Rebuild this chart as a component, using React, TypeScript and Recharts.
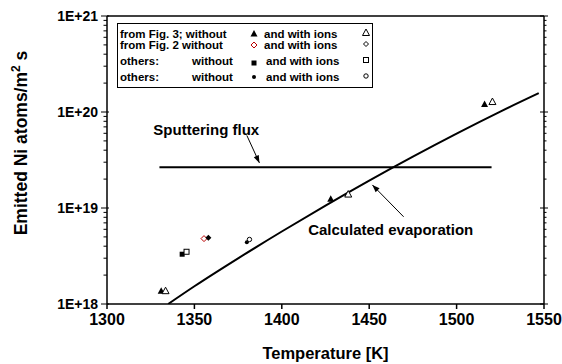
import {
  ComposedChart,
  Line,
  Scatter,
  XAxis,
  YAxis,
  ReferenceLine,
  ReferenceDot,
  Legend,
} from "recharts";

// temperatures [K] and emitted flux [atoms/m^2 s]
const fig3WithoutT = [1331, 1428, 1516];
const fig3WithoutF = [1.36e18, 1.23e19, 1.2e20];
const fig3WithT = [1333.5, 1438, 1520.5];
const fig3WithF = [1.36e18, 1.38e19, 1.27e20];
const fig2WithoutT = [1355.5];
const fig2WithoutF = [4.8e18];
const fig2WithT = [1358];
const fig2WithF = [4.9e18];
const sqWithoutT = [1343];
const sqWithoutF = [3.3e18];
const sqWithT = [1345.5];
const sqWithF = [3.5e18];
const circWithoutT = [1380];
const circWithoutF = [4.4e18];
const circWithT = [1381.5];
const circWithF = [4.7e18];

const evapT = [1335, 1350, 1375, 1400, 1425, 1450, 1475, 1500, 1525, 1547];
const evapF = [1.0e18, 1.53e18, 2.99e18, 5.69e18, 1.06e19, 1.93e19, 3.43e19, 5.96e19, 1.01e20, 1.57e20];
const sputT = [1330, 1520];
const sputF = [2.65e19, 2.65e19];

const xTicks = [1300, 1350, 1400, 1450, 1500, 1550];
const yMajor = [1e18, 1e19, 1e20, 1e21];
const yMinor = [
  2e18, 3e18, 4e18, 5e18, 6e18, 7e18, 8e18, 9e18,
  2e19, 3e19, 4e19, 5e19, 6e19, 7e19, 8e19, 9e19,
  2e20, 3e20, 4e20, 5e20, 6e20, 7e20, 8e20, 9e20,
];

const zip = (t: number[], f: number[]) => t.map((v, i) => ({ t: v, f: f[i] }));

const font = "'Liberation Sans', Arial, sans-serif";

const fmtY = (v: number) => "1E+" + Math.round(Math.log10(v));

const triFilled = (p: any) => (
  <path d={`M${p.cx},${p.cy - 4}L${p.cx + 3.5},${p.cy + 2.5}L${p.cx - 3.5},${p.cy + 2.5}Z`} fill="#000" />
);
const triOpen = (p: any) => (
  <path d={`M${p.cx},${p.cy - 4}L${p.cx + 3.5},${p.cy + 2.5}L${p.cx - 3.5},${p.cy + 2.5}Z`} fill="#fff" stroke="#000" strokeWidth={1} />
);
const diaOpenRed = (p: any) => (
  <path d={`M${p.cx},${p.cy - 3}L${p.cx + 3},${p.cy}L${p.cx},${p.cy + 3}L${p.cx - 3},${p.cy}Z`} fill="#fff" stroke="#b00" strokeWidth={1} />
);
const diaFilled = (p: any) => (
  <path d={`M${p.cx},${p.cy - 3}L${p.cx + 3},${p.cy}L${p.cx},${p.cy + 3}L${p.cx - 3},${p.cy}Z`} fill="#000" />
);
const diaOpen = (p: any) => (
  <path d={`M${p.cx},${p.cy - 2.5}L${p.cx + 2.5},${p.cy}L${p.cx},${p.cy + 2.5}L${p.cx - 2.5},${p.cy}Z`} fill="#fff" stroke="#000" strokeWidth={1} />
);
const sqFilled = (p: any) => <rect x={p.cx - 2.5} y={p.cy - 2.5} width={5} height={5} fill="#000" />;
const sqOpen = (p: any) => <rect x={p.cx - 2.5} y={p.cy - 2.5} width={5} height={5} fill="#fff" stroke="#000" strokeWidth={1} />;
const circFilled = (p: any) => <circle cx={p.cx} cy={p.cy} r={2} fill="#000" />;
const circOpen = (p: any) => <circle cx={p.cx} cy={p.cy} r={2.2} fill="#fff" stroke="#000" strokeWidth={1} />;

// draws tick mark + label; tickSize/tickMargin are 0 so x is the axis position
const LeftTick = (props: any) => {
  const { x, y, payload } = props;
  const major = yMajor.includes(payload.value);
  return (
    <g>
      <line x1={x - (major ? 6 : 3.5)} x2={major ? x + 2 : x} y1={y} y2={y} stroke="#000" strokeWidth={1} />
      {major && (
        <text x={x - 9} y={y} dy={5} textAnchor="end" fontFamily={font} fontWeight="bold" fontSize={14} fill="#000">
          {fmtY(payload.value)}
        </text>
      )}
    </g>
  );
};

const RightTick = (props: any) => {
  const { x, y, payload } = props;
  const major = yMajor.includes(payload.value);
  return <line x1={major ? x - 4 : x} x2={x + (major ? 4 : 2.5)} y1={y} y2={y} stroke="#000" strokeWidth={1} />;
};

const Arrow = (props: any) => {
  const { x1, y1, x2, y2 } = props;
  const a = Math.atan2(y2 - y1, x2 - x1);
  const len = 8;
  const w = 0.35;
  const p1 = [x2 - len * Math.cos(a - w), y2 - len * Math.sin(a - w)];
  const p2 = [x2 - len * Math.cos(a + w), y2 - len * Math.sin(a + w)];
  return (
    <g>
      <line x1={x1} y1={y1} x2={x2} y2={y2} stroke="#000" strokeWidth={1} />
      <path d={`M${x2},${y2}L${p1[0]},${p1[1]}L${p2[0]},${p2[1]}Z`} fill="#000" />
    </g>
  );
};

const legendRows = [
  { a: "from Fig. 3; without", b: "", y: 14, m1: triFilled, m2: triOpen, bx: 146 },
  { a: "from Fig. 2 without", b: "", y: 25, m1: diaOpenRed, m2: diaOpen, bx: 146 },
  { a: "others:", b: "without", y: 41, m1: sqFilled, m2: sqOpen, bx: 148 },
  { a: "others:", b: "without", y: 57, m1: circFilled, m2: circOpen, bx: 148 },
];

const LegendBox = () => (
  <div
    style={{
      position: "relative",
      width: 256,
      height: 65,
      border: "1px solid #000",
      background: "#fff",
      boxSizing: "border-box",
    }}
  >
    <svg width={256} height={65} style={{ position: "absolute", left: 0, top: 0 }}>
      {legendRows.map((r, i) => (
        <g key={i} fontFamily={font} fontWeight="bold" fontSize={11.5} fill="#000">
          <text x={2} y={r.y}>{r.a}</text>
          {r.b && <text x={74} y={r.y}>{r.b}</text>}
          {r.m1({ cx: 136, cy: r.y - 4 + (i === 2 ? 2 : 0) })}
          <text x={r.bx} y={r.y}>and with ions</text>
          {r.m2({ cx: 248, cy: r.y - 5 })}
        </g>
      ))}
    </svg>
  </div>
);

const YLabel = (props: any) => {
  const { viewBox } = props;
  const cx = 21;
  const cy = viewBox.y + viewBox.height / 2 - 17;
  return (
    <text
      x={cx}
      y={cy}
      transform={`rotate(-90, ${cx}, ${cy})`}
      textAnchor="middle"
      dy={6}
      fontFamily={font}
      fontWeight="bold"
      fontSize={17.5}
      fill="#000"
    >
      Emitted Ni atoms/m
      <tspan dy={-7} fontSize={12}>2</tspan>
      <tspan dy={7}> s</tspan>
    </text>
  );
};

export default function App() {
  return (
    <div style={{ position: "absolute", left: 0, top: 0, background: "#fff" }}>
      <ComposedChart width={562} height={364} margin={{ top: 16, right: 8, bottom: 0, left: 0 }}>
        <XAxis
          dataKey="t"
          type="number"
          domain={[1300, 1550]}
          ticks={xTicks}
          interval={0}
          allowDataOverflow
          stroke="#000"
          strokeWidth={1.5}
          tickSize={5}
          tickMargin={5}
          height={60}
          tick={{ fill: "#000", fontFamily: font, fontWeight: "bold", fontSize: 16 }}
          label={{
            value: "Temperature [K]",
            position: "insideBottom",
            offset: 5,
            fill: "#000",
            fontFamily: font,
            fontWeight: "bold",
            fontSize: 16.5,
          }}
        />
        <YAxis
          yAxisId="l"
          dataKey="f"
          type="number"
          scale="log"
          domain={[1e18, 1e21]}
          allowDataOverflow
          ticks={[...yMajor, ...yMinor]}
          interval={0}
          width={107}
          stroke="#000"
          strokeWidth={1.5}
          tickLine={false}
          tickSize={0}
          tickMargin={0}
          tick={<LeftTick />}
          label={<YLabel />}
        />
        <YAxis
          yAxisId="r"
          orientation="right"
          type="number"
          scale="log"
          domain={[1e18, 1e21]}
          allowDataOverflow
          ticks={[...yMajor, ...yMinor]}
          interval={0}
          width={10}
          stroke="#000"
          strokeWidth={1.5}
          tickLine={false}
          tickSize={0}
          tickMargin={0}
          tick={<RightTick />}
        />
        <ReferenceLine yAxisId="l" y={1e21} stroke="#000" strokeWidth={1.5} />
        <Line
          yAxisId="l"
          data={zip(sputT, sputF)}
          dataKey="f"
          type="linear"
          stroke="#000"
          strokeWidth={2}
          dot={false}
          isAnimationActive={false}
        />
        <Line
          yAxisId="l"
          data={zip(evapT, evapF)}
          dataKey="f"
          type="monotone"
          stroke="#000"
          strokeWidth={2}
          dot={false}
          isAnimationActive={false}
        />
        <Scatter yAxisId="l" data={zip(fig3WithoutT, fig3WithoutF)} dataKey="f" shape={triFilled} isAnimationActive={false} />
        <Scatter yAxisId="l" data={zip(fig3WithT, fig3WithF)} dataKey="f" shape={triOpen} isAnimationActive={false} />
        <Scatter yAxisId="l" data={zip(fig2WithoutT, fig2WithoutF)} dataKey="f" shape={diaOpenRed} isAnimationActive={false} />
        <Scatter yAxisId="l" data={zip(fig2WithT, fig2WithF)} dataKey="f" shape={diaFilled} isAnimationActive={false} />
        <Scatter yAxisId="l" data={zip(sqWithoutT, sqWithoutF)} dataKey="f" shape={sqFilled} isAnimationActive={false} />
        <Scatter yAxisId="l" data={zip(sqWithT, sqWithF)} dataKey="f" shape={sqOpen} isAnimationActive={false} />
        <Scatter yAxisId="l" data={zip(circWithoutT, circWithoutF)} dataKey="f" shape={circFilled} isAnimationActive={false} />
        <Scatter yAxisId="l" data={zip(circWithT, circWithF)} dataKey="f" shape={circOpen} isAnimationActive={false} />
        <ReferenceLine
          yAxisId="l"
          segment={[
            { x: 1380, y: 5.7e19 },
            { x: 1387.2, y: 2.95e19 },
          ]}
          shape={<Arrow />}
        />
        <ReferenceLine
          yAxisId="l"
          segment={[
            { x: 1469.7, y: 8.1e18 },
            { x: 1451.8, y: 1.74e19 },
          ]}
          shape={<Arrow />}
        />
        <ReferenceDot
          yAxisId="l"
          x={1356.8}
          y={6.5e19}
          r={0}
          fill="none"
          stroke="none"
          label={{ value: "Sputtering flux", position: "center", fill: "#000", fontFamily: font, fontWeight: "bold", fontSize: 15 }}
        />
        <ReferenceDot
          yAxisId="l"
          x={1462.3}
          y={5.9e18}
          r={0}
          fill="none"
          stroke="none"
          label={{ value: "Calculated evaporation", position: "center", fill: "#000", fontFamily: font, fontWeight: "bold", fontSize: 15 }}
        />
        <Legend
          layout="horizontal"
          verticalAlign="middle"
          align="center"
          wrapperStyle={{ left: 117, top: 23, width: 256, height: 65 }}
          content={() => <LegendBox />}
        />
      </ComposedChart>
    </div>
  );
}
